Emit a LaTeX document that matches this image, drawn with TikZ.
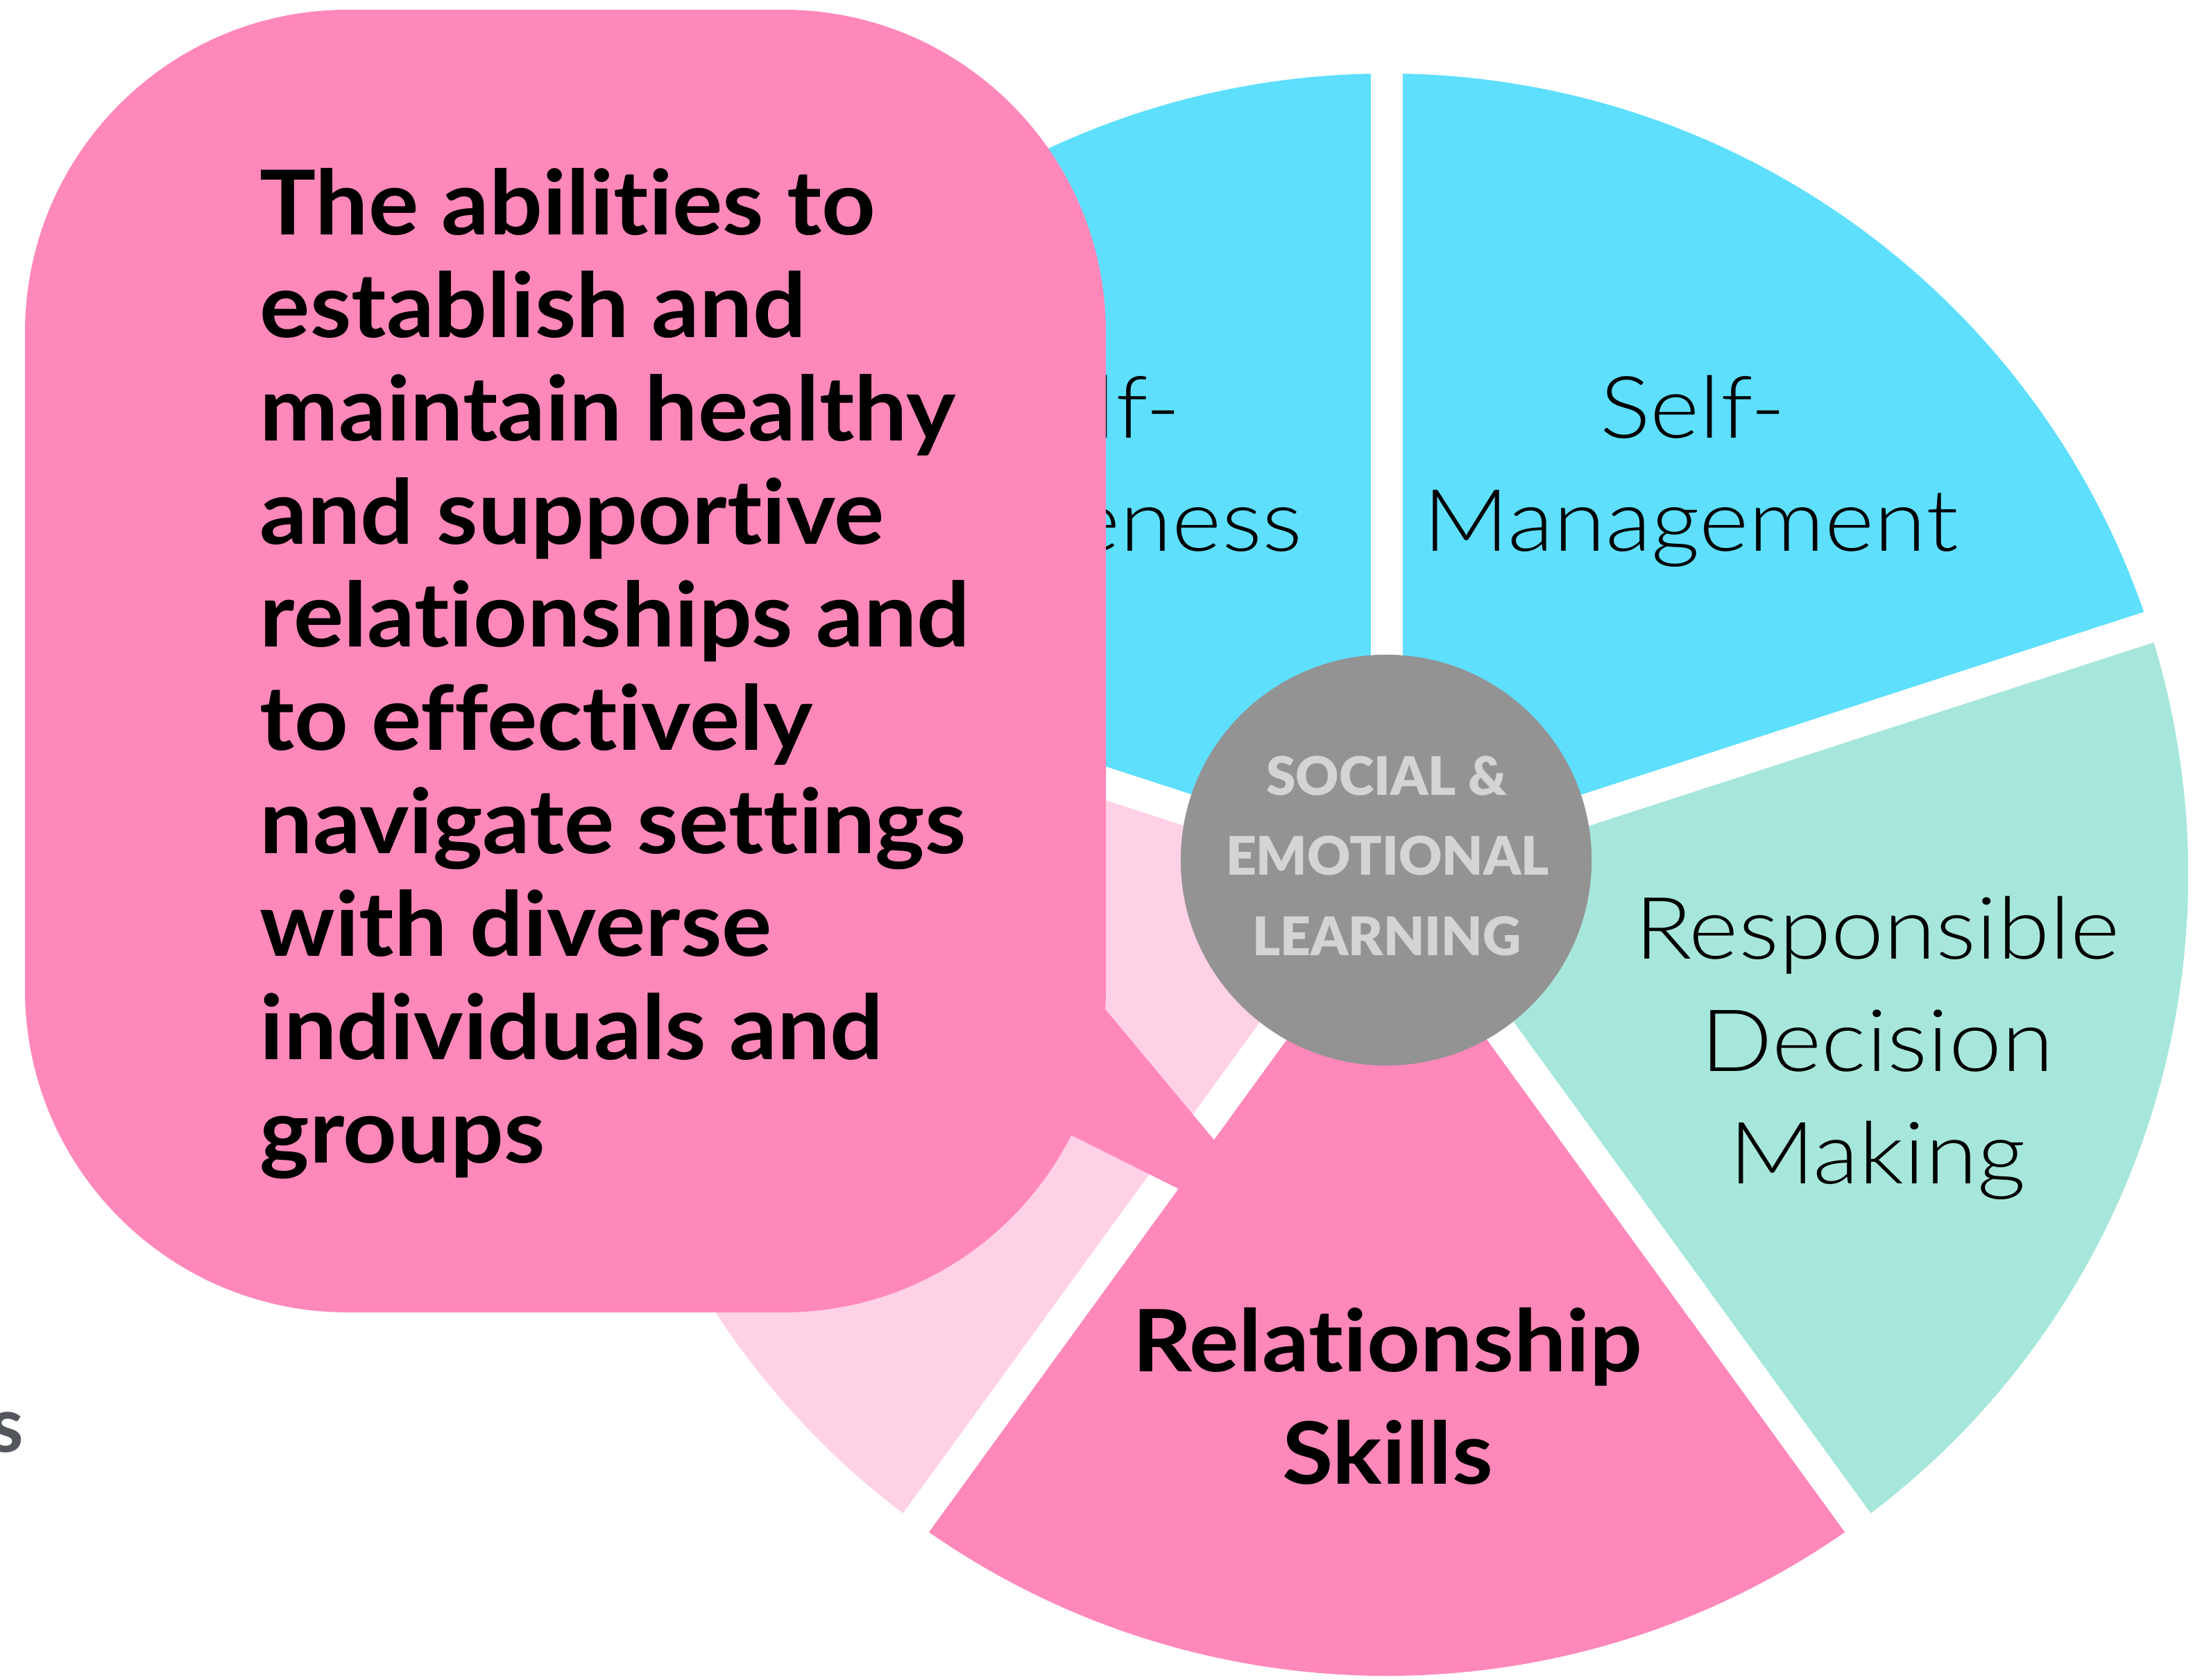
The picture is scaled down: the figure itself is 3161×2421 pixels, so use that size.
\documentclass[tikz,border=0pt]{standalone}
\usepackage{fontspec}
\newfontfamily\latof{Lato}[Ligatures=CommonOff]
\newfontfamily\bubblef{Lato}[FakeStretch=1.05, Ligatures=CommonOff]
\newfontfamily\relf{Lato}[FakeStretch=1.08, Ligatures=CommonOff]
\IfFontExistsTF{Lato Light}{\newfontfamily\lightf{Lato Light}[FakeStretch=1.1, Ligatures=CommonOff]}{\newfontfamily\lightf{Lato}[FakeStretch=1.1, Ligatures=CommonOff]}
\IfFontExistsTF{Lato Black}{\newfontfamily\blackf{Lato Black}}{\newcommand\blackf{\latof\bfseries}}
\definecolor{selblue}{HTML}{5EDFFE}
\definecolor{selmint}{HTML}{A7E7DB}
\definecolor{selpink}{HTML}{FF88BA}
\definecolor{sellight}{HTML}{FFD1E7}
\definecolor{selgray}{HTML}{939393}
\definecolor{seltext}{HTML}{D4D4D4}
\definecolor{sgray}{HTML}{53575C}
\tikzset{
  seglabel/.style={font=\lightf\fontsize{35.3}{40}\selectfont, inner sep=0pt, anchor=base},
  boldlabel/.style={font=\relf\bfseries\fontsize{35.3}{40}\selectfont, inner sep=0pt, anchor=base},
  bubbletext/.style={font=\bubblef\bfseries\fontsize{36.7}{40}\selectfont, inner sep=0pt, anchor=base west},
  centertext/.style={font=\blackf\fontsize{21.8}{25}\selectfont, text=seltext, inner sep=0pt, anchor=base},
  gapline/.style={draw=white, line width=4.6mm},
}
\begin{document}
\begin{tikzpicture}[x=0.01cm, y=-0.01cm]
\useasboundingbox (0,0) rectangle (3161,2421);
\coordinate (P) at (1999,1261);
% sectors
\fill[selblue]  (P) -- +(-162:1155) arc[start angle=-162, end angle=-90, radius=1155] -- cycle;
\fill[selblue]  (P) -- +(-90:1155) arc[start angle=-90, end angle=-18, radius=1155] -- cycle;
\fill[selmint]  (P) -- +(-18:1155) arc[start angle=-18, end angle=54, radius=1155] -- cycle;
\fill[selpink]  (P) -- +(54:1155) arc[start angle=54, end angle=126, radius=1155] -- cycle;
\fill[sellight] (P) -- +(126:1155) arc[start angle=126, end angle=198, radius=1155] -- cycle;
% gaps
\foreach \a in {-90,-18,54,126,198} \draw[gapline] (P) -- +(\a:1300);
% centre circle
\node[circle, fill=selgray, minimum size=5.92cm, inner sep=0pt] (hub) at (1998,1240) {};
\node[centertext] (c1) at (1999,1146) {SOCIAL \&};
\node[centertext] (c2) at (2000,1261) {EMOTIONAL};
\node[centertext] (c3) at (1999,1377) {LEARNING};
% segment labels
\node[seglabel] (sa1) at (1568,631) {Self-};
\node[seglabel] (sa2) at (1560,794) {Awareness};
\node[seglabel] (sm1) at (2440,631) {Self-};
\node[seglabel] (sm2) at (2437,794) {Management};
\node[seglabel] (rd1) at (2706,1382) {Responsible};
\node[seglabel] (rd2) at (2706,1544) {Decision};
\node[seglabel] (rd3) at (2706,1706) {Making};
\node[boldlabel] (rs1) at (2000,1977) {Relationship};
\node[boldlabel] (rs2) at (2000,2139) {Skills};
% callout bubble
\fill[selpink, rounded corners=4.65cm] (36,14) rectangle (1594,1892);
\fill[selpink] (1594,1456) -- (1753,1647) -- (1703,1716) -- (1543,1636) -- (1450,1600) -- (1500,1456) -- cycle;
\node[bubbletext] (b1) at (374,338) {The abilities to};
\node[bubbletext] (b2) at (374,486.7) {establish and};
\node[bubbletext] (b3) at (374,635.4) {maintain healthy};
\node[bubbletext] (b4) at (374,784.1) {and supportive};
\node[bubbletext] (b5) at (374,932.8) {relationships and};
\node[bubbletext] (b6) at (374,1081.5) {to effectively};
\node[bubbletext] (b7) at (374,1230.2) {navigate settings};
\node[bubbletext] (b8) at (374,1378.9) {with diverse};
\node[bubbletext] (b9) at (374,1527.6) {individuals and};
\node[bubbletext] (b10) at (374,1676.3) {groups};
% cut-off letter at the left edge
\node[font=\latof\bfseries\fontsize{31.5}{35}\selectfont, text=sgray, anchor=base east, inner sep=0pt] (cut) at (35,2093) {s};
\end{tikzpicture}
\end{document}
